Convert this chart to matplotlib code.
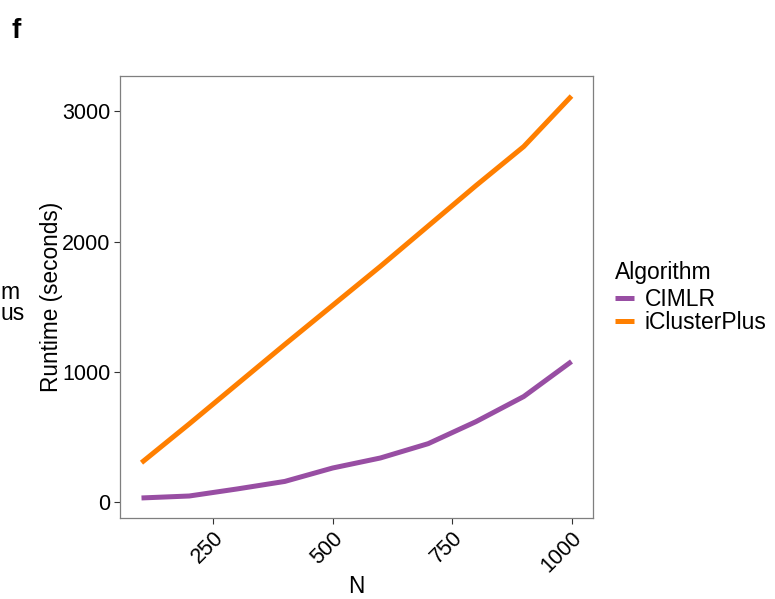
import matplotlib
matplotlib.use("Agg")
import matplotlib.pyplot as plt

plt.rcParams['font.family'] = ['Liberation Sans', 'DejaVu Sans']

# data
n_values = [100, 200, 300, 400, 500, 600, 700, 800, 900, 1000]
cimlr = [31, 46, 100, 158, 261, 338, 448, 617, 810, 1079]
icluster = [302, 600, 905, 1210, 1510, 1810, 2120, 2430, 2730, 3118]
x_ticks = [250, 500, 750, 1000]
y_ticks = [0, 1000, 2000, 3000]

purple = "#984EA3"
orange = "#FF7F00"
border = "#7f7f7f"

fig = plt.figure(figsize=(7.75, 5.99), dpi=100)
W, H = 775, 599
ax = fig.add_axes([120 / W, 1 - 518 / H, (593 - 120) / W, (518 - 76) / H])

l1, = ax.plot(n_values, cimlr, color=purple, lw=3.6, solid_capstyle="butt", label="CIMLR")
l2, = ax.plot(n_values, icluster, color=orange, lw=3.6, solid_capstyle="butt", label="iClusterPlus")

ax.set_xlim(55, 1045)
ax.set_ylim(-123, 3272)
ax.set_xticks(x_ticks)
ax.set_yticks(y_ticks)
ax.set_xticklabels([str(v) for v in x_ticks], rotation=45, ha="right", va="top",
                   rotation_mode="anchor")
ax.tick_params(axis="both", labelsize=15.5, color="#333333", length=4, width=0.8,
               labelcolor="black", pad=3)
for s in ax.spines.values():
    s.set_color(border)
    s.set_linewidth(0.9)

ax.set_xlabel("N", fontsize=16.3)
ax.set_ylabel("Runtime (seconds)", fontsize=16.3)
ax.xaxis.set_label_coords(0.5, -(575 - 518) / 442)
ax.yaxis.set_label_coords(-(120 - 63) / 473, 0.5)

leg = fig.legend(handles=[l1, l2], title="Algorithm", loc="upper left",
                 bbox_to_anchor=(606 / W, 1 - 252 / H), frameon=False,
                 fontsize=16.5, title_fontsize=16.5, handlelength=0.8,
                 handletextpad=0.5, labelspacing=0.0, borderaxespad=0)
leg._legend_box.align = "left"
leg._legend_box.sep = 3

# panel label and the visible tail of the neighbouring panel's legend
fig.text(12 / W, 1 - 38 / H, "f", fontsize=20, fontweight="bold")
fig.text(0.5 / W, 1 - 299 / H, "m", fontsize=16.5, ha="left")
fig.text(0.5 / W, 1 - 320 / H, "us", fontsize=16.5, ha="left")

fig.savefig("out.png", dpi=100)
